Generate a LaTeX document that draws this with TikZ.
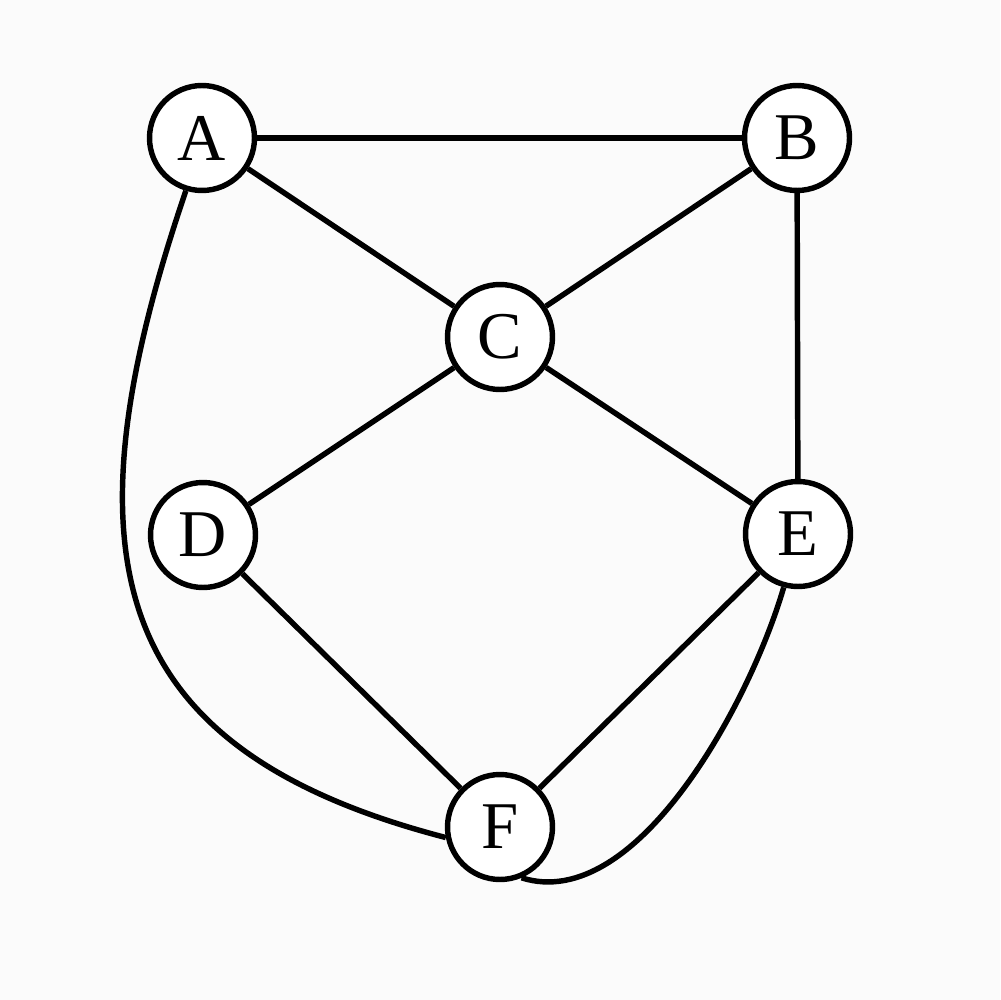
\documentclass[tikz,border=0pt]{standalone}
\usepackage{fontspec}
\setmainfont{Liberation Serif}
\begin{document}
\begin{tikzpicture}[x=0.02cm,y=-0.02cm,
  vertex/.style={circle,draw=black,fill=white,line width=3.1pt,minimum size=2.1cm,inner sep=0pt,font=\fontsize{38}{40}\selectfont},
  edge/.style={line width=3.1pt,black}]
\fill[white!98.5!black] (0,0) rectangle (1000,1000);
\useasboundingbox (0,0) rectangle (1000,1000);
\node[vertex] (A) at (202,138) {A};
\node[vertex] (B) at (797,138) {B};
\node[vertex] (C) at (500,337) {C};
\node[vertex] (D) at (203,535) {D};
\node[vertex] (E) at (798,534) {E};
\node[vertex] (F) at (500,827) {F};
\draw[edge] (A) -- (B);
\draw[edge] (A) -- (C);
\draw[edge] (B) -- (C);
\draw[edge] (B) -- (E);
\draw[edge] (C) -- (D);
\draw[edge] (C) -- (E);
\draw[edge] (D) -- (F);
\draw[edge] (E) -- (F);
\draw[edge] (A.253.6) .. controls (60,560) and (109,750) .. (F.191.7);
\draw[edge] (E.255.5) .. controls (750,703) and (636,914) .. (F.293);
\end{tikzpicture}
\end{document}
